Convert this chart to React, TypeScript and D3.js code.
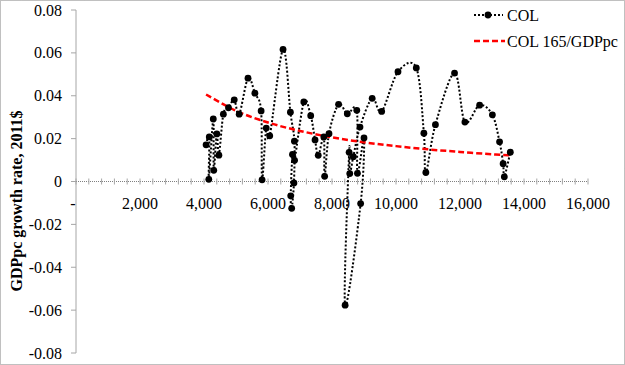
import { scaleLinear, line, curveCardinal, range, format } from "d3";

// Colombia, 1961-2018: GDP per capita (2011$) and its annual growth rate
const years = range(1961, 2019);
const gdppc = [
	4065, 4165, 4150, 4290, 4305, 4400, 4465, 4605, 4765, 4945,
	5100, 5375, 5590, 5785, 5815, 5945, 6055, 6470, 6700, 6825,
	6810, 6740, 6710, 6765, 6830, 7120, 7335, 7470, 7570, 7745,
	7770, 7906, 8205, 8478, 8775, 8795, 9000, 8895, 8410, 8535,
	8555, 8666, 8875, 9255, 9552, 10062, 10634, 10871, 10933, 11232,
	11829, 12153, 12613, 13012, 13236, 13348, 13385, 13572,
];
const growth = [
	0.0171, 0.0208, 0.001, 0.0292, 0.0052, 0.0222, 0.0123, 0.0314, 0.0344, 0.0381,
	0.0314, 0.0482, 0.0412, 0.0329, 0.0008, 0.0249, 0.0213, 0.0616, 0.0323, 0.0188,
	-0.0007, -0.0125, -0.0067, 0.0126, 0.0099, 0.0371, 0.0307, 0.0194, 0.0122, 0.0208,
	0.0024, 0.0223, 0.036, 0.0316, 0.0332, 0.0038, 0.0203, -0.0103, -0.0577, 0.0136,
	0.0037, 0.0116, 0.0254, 0.0388, 0.0327, 0.0512, 0.053, 0.0225, 0.0042, 0.0265,
	0.0506, 0.0277, 0.0356, 0.0311, 0.0185, 0.0083, 0.0022, 0.0137,
];

// "COL 165/GDPpc" reference curve
const refGdppc = [4065, 5000, 6000, 7000, 8000, 9000, 10000, 11000, 12000, 13000, 13572];
const refRate = [0.0406, 0.033, 0.0275, 0.0236, 0.0206, 0.0183, 0.0165, 0.015, 0.0138, 0.0127, 0.0122];

const xTicks = range(0, 16001, 2000);
const xMinorTicks = range(0, 16001, 400);
const yTicks = [0.08, 0.06, 0.04, 0.02, 0, -0.02, -0.04, -0.06, -0.08];

const seriesNames = ["COL", "COL 165/GDPpc"];

const WIDTH = 625;
const HEIGHT = 365;
const FONT = "'Liberation Serif', 'Times New Roman', serif";

export default function App() {
	const xScale = scaleLinear().domain([0, 16000]).range([76, 588]);
	const yScale = scaleLinear().domain([-0.08, 0.08]).range([353, 10]);
	const y0 = yScale(0);

	const points = years.map((year, i) => ({ year, x: gdppc[i], y: growth[i] }));
	const refPoints = refGdppc.map((x, i) => ({ x, y: refRate[i] }));

	const smooth = line<{ x: number; y: number }>()
		.x((d) => xScale(d.x))
		.y((d) => yScale(d.y))
		.curve(curveCardinal.tension(0));

	const fmt = format(",");

	return (
		<div style={{ width: WIDTH, height: HEIGHT }}>
			<style>{`body{margin:0}`}</style>
			<svg width={WIDTH} height={HEIGHT} style={{ display: "block", fontFamily: FONT }}>
				<rect x={0} y={0} width={WIDTH} height={HEIGHT} fill="#fff" />
				<rect
					x={0.5}
					y={0.5}
					width={WIDTH - 1}
					height={HEIGHT - 1}
					fill="none"
					stroke="#808080"
					strokeDasharray="1,1"
				/>

				{/* y axis */}
				<line x1={xScale(0)} x2={xScale(0)} y1={yScale(0.08)} y2={yScale(-0.08)} stroke="#a6a6a6" />
				{yTicks.map((t) => (
					<g key={t}>
						<line x1={xScale(0) - 5} x2={xScale(0)} y1={yScale(t)} y2={yScale(t)} stroke="#a6a6a6" />
						<text x={62} y={yScale(t)} dy="0.35em" textAnchor="end" fontSize={16} fill="#000">
							{t === 0 ? "0" : t.toFixed(2)}
						</text>
					</g>
				))}

				{/* x axis at zero */}
				<line x1={xScale(0)} x2={xScale(16000)} y1={y0} y2={y0} stroke="#808080" strokeDasharray="1,1" />
				{xMinorTicks.map((t) => (
					<line key={t} x1={xScale(t)} x2={xScale(t)} y1={y0 - 3} y2={y0 + 3} stroke="#a6a6a6" />
				))}
				{xTicks.map((t) => (
					<text
						key={t}
						x={t === 0 ? xScale(t) - 3 : xScale(t)}
						y={203}
						dy="0.35em"
						textAnchor="middle"
						fontSize={16}
						fill="#000"
					>
						{t === 0 ? "-" : fmt(t)}
					</text>
				))}

				<text
					transform={`translate(16,201) rotate(-90)`}
					textAnchor="middle"
					dy="0.35em"
					fontSize={16}
					fontWeight="bold"
					fill="#000"
				>
					GDPpc growth rate, 2011$
				</text>

				{/* series */}
				<path d={smooth(points) ?? ""} fill="none" stroke="#000" strokeWidth={2} strokeDasharray="2,2" />
				<path d={smooth(refPoints) ?? ""} fill="none" stroke="#ff0000" strokeWidth={2.5} strokeDasharray="6,3" />
				{points.map((d) => (
					<circle key={d.year} cx={xScale(d.x)} cy={yScale(d.y)} r={3.4} fill="#000" />
				))}

				{/* legend */}
				<line x1={474} x2={503} y1={15} y2={15} stroke="#000" strokeWidth={2} strokeDasharray="2,2" />
				<circle cx={488} cy={15} r={3.4} fill="#000" />
				<text x={507} y={15} dy="0.35em" fontSize={16} fill="#000">
					{seriesNames[0]}
				</text>
				<line x1={474} x2={505} y1={41} y2={41} stroke="#ff0000" strokeWidth={2.5} strokeDasharray="6,3" />
				<text x={507} y={41} dy="0.35em" fontSize={16} fill="#000">
					{seriesNames[1]}
				</text>
			</svg>
		</div>
	);
}
